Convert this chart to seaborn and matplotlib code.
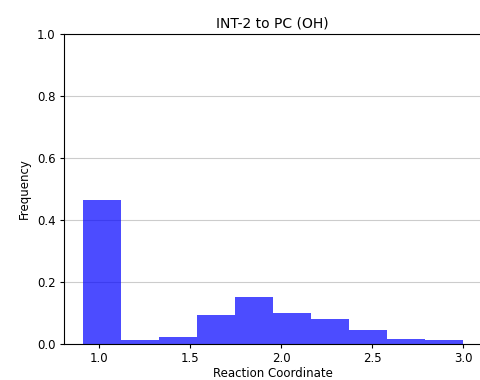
import matplotlib
matplotlib.use("Agg")
import matplotlib.pyplot as plt
import seaborn as sns
import numpy as np

# Histogram data (bin edges and relative frequencies)
bin_start = 0.910
bin_width = 0.2086
frequencies = [0.464, 0.013, 0.022, 0.094, 0.152, 0.100, 0.082, 0.046, 0.016, 0.011]
xticks = [1.0, 1.5, 2.0, 2.5, 3.0]
yticks = [0.0, 0.2, 0.4, 0.6, 0.8, 1.0]

edges = [bin_start + i * bin_width for i in range(len(frequencies) + 1)]
centers = [(edges[i] + edges[i + 1]) / 2 for i in range(len(frequencies))]

fig = plt.figure(figsize=(4.8, 3.8), dpi=100)
ax = fig.add_axes([0.133, 0.095, 0.87, 0.815])

sns.histplot(x=centers, weights=frequencies, bins=edges, stat="count",
             color="blue", alpha=0.7, linewidth=0, ax=ax)

ax.set_ylim(0, 1.0)
ax.set_xlim(0.806, 3.10)
ax.set_xticks(xticks)
ax.set_yticks(yticks)
ax.tick_params(labelsize=8.5, length=3, width=0.8, pad=3)
ax.yaxis.grid(True, color="#cccccc", linewidth=0.8)
ax.set_axisbelow(True)
ax.set_xlabel("Reaction Coordinate", fontsize=8.5, labelpad=1)
ax.set_ylabel("Frequency", fontsize=8.5, labelpad=4)
ax.set_title("INT-2 to PC (OH)", fontsize=10, pad=5)
for s in ax.spines.values():
    s.set_linewidth(0.8)

fig.savefig("out.png", dpi=100)
